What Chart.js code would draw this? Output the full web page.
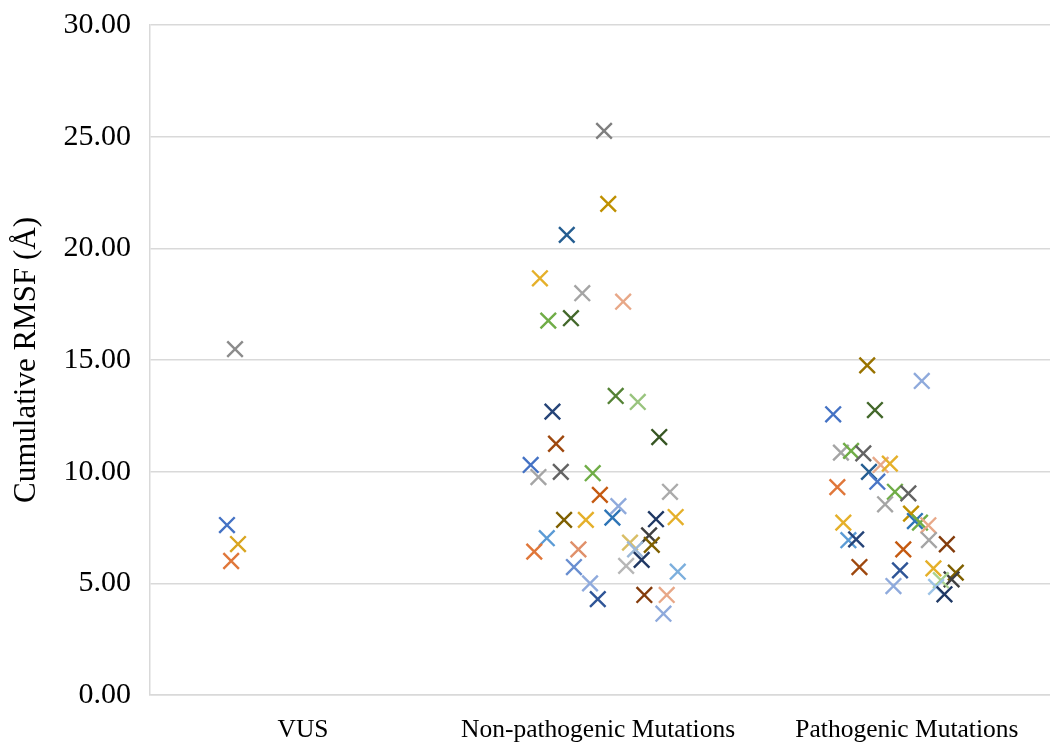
<!DOCTYPE html>
<html>
<head>
<meta charset="utf-8">
<script src="https://cdn.jsdelivr.net/npm/chart.js@4/dist/chart.umd.min.js"></script>
<style>
  html, body { margin: 0; padding: 0; background: #ffffff; }
  #wrap { width: 1050px; height: 746px; }
</style>
</head>
<body>
<div id="wrap"><canvas id="c" width="1050" height="746"></canvas></div>
<script>
// ---- Data ----
const categories = ["VUS", "Non-pathogenic Mutations", "Pathogenic Mutations"];
const categoryTickX = [0.513, 1.502, 2.537];
const yTicks = [0, 5, 10, 15, 20, 25, 30];

const vusX = [0.285, 0.258, 0.295, 0.272];
const vusY = [15.49, 7.61, 6.76, 6.00];

const nonPathX = [1.522, 1.536, 1.397, 1.307, 1.449, 1.586, 1.335, 1.411, 1.561, 1.635,
                  1.349, 1.707, 1.361, 1.276, 1.302, 1.377, 1.484, 1.508, 1.743, 1.570,
                  1.550, 1.388, 1.461, 1.696, 1.762, 1.330, 1.673, 1.682, 1.609, 1.626,
                  1.288, 1.436, 1.648, 1.596, 1.421, 1.769, 1.475, 1.501, 1.657, 1.732,
                  1.721];
const nonPathY = [25.26, 21.99, 20.60, 18.66, 17.99, 17.61, 16.76, 16.87, 13.39, 13.12,
                  12.69, 11.55, 11.25, 10.30, 9.76, 9.99, 9.93, 8.96, 9.10, 8.46,
                  7.94, 7.84, 7.84, 7.87, 7.97, 7.02, 7.15, 6.72, 6.82, 6.52,
                  6.42, 6.52, 6.05, 5.78, 5.73, 5.52, 5.00, 4.29, 4.48, 4.48,
                  3.64];

const pathX = [2.404, 2.587, 2.290, 2.430, 2.316, 2.350, 2.391, 2.449, 2.480, 2.410,
               2.438, 2.304, 2.497, 2.542, 2.464, 2.324, 2.551, 2.564, 2.581, 2.609,
               2.611, 2.341, 2.367, 2.671, 2.525, 2.378, 2.514, 2.626, 2.701, 2.687,
               2.651, 2.635, 2.492, 2.663];
const pathY = [14.76, 14.06, 12.57, 12.76, 10.85, 10.93, 10.82, 10.30, 10.36, 9.99,
               9.55, 9.31, 9.10, 9.03, 8.54, 7.72, 8.12, 7.79, 7.72, 7.60,
               6.94, 6.93, 6.97, 6.75, 6.52, 5.73, 5.58, 5.67, 5.48, 5.18,
               5.14, 4.84, 4.88, 4.51];

// ---- Styles (marker colours) ----
const vusColors = ['#8c8c8c', '#4472C4', '#D9A520', '#E0773A'];
const nonPathColors = ['#7F7F7F', '#BF9000', '#255E91', '#E5B02A', '#A5A5A5', '#E8A888', '#70AD47', '#43682B', '#548235', '#99C47E',
                       '#264478', '#375623', '#9E480E', '#4472C4', '#A5A5A5', '#636363', '#70AD47', '#C55A11', '#ABABAB', '#8FAADC',
                       '#2E75B6', '#7F6000', '#E5B02A', '#1F3864', '#E5B02A', '#5B9BD5', '#404040', '#7F6000', '#D9BE66', '#9DB9D8',
                       '#E0773A', '#E0906A', '#203864', '#B7B7B7', '#698ED0', '#7CAFDD', '#8FAADC', '#2F5597', '#843C0C', '#E8A888',
                       '#8FAADC'];
const pathColors = ['#997300', '#8FAADC', '#4472C4', '#43682B', '#A5A5A5', '#70AD47', '#636363', '#E8A888', '#E5B02A', '#255E91',
                    '#4A76C6', '#E0773A', '#70AD47', '#636363', '#A5A5A5', '#E5B02A', '#BF9000', '#2E75B6', '#70AD47', '#E8A888',
                    '#A5A5A5', '#5B9BD5', '#264478', '#843C0C', '#C55A11', '#9E480E', '#2F5597', '#E5B02A', '#7F6000', '#404040',
                    '#A9D18E', '#9DC3E6', '#8FAADC', '#1F3864'];

const zip = (xs, ys) => xs.map((x, i) => ({ x: x, y: ys[i] }));

const serif = "'Liberation Serif', 'Times New Roman', serif";

function mkSet(label, xs, ys, colors) {
  return {
    label: label,
    data: zip(xs, ys),
    pointStyle: 'crossRot',
    pointRadius: 11,
    pointHoverRadius: 11,
    pointBorderWidth: 2.4,
    pointBorderColor: colors,
    pointBackgroundColor: colors,
    showLine: false
  };
}

new Chart(document.getElementById('c'), {
  type: 'scatter',
  data: {
    datasets: [
      mkSet(categories[0], vusX, vusY, vusColors),
      mkSet(categories[1], nonPathX, nonPathY, nonPathColors),
      mkSet(categories[2], pathX, pathY, pathColors)
    ]
  },
  options: {
    responsive: false,
    animation: false,
    devicePixelRatio: 1,
    events: [],
    layout: { autoPadding: false, padding: { top: 25, right: 0, bottom: 0, left: 0 } },
    plugins: { legend: { display: false }, tooltip: { enabled: false } },
    scales: {
      x: {
        type: 'linear',
        min: 0, max: 3.0168,
        afterBuildTicks: (s) => { s.ticks = categoryTickX.map(v => ({ value: v })); },
        afterFit: (s) => { s.height = 51; s.paddingLeft = 0; s.paddingRight = 0; },
        grid: { display: false, drawTicks: false },
        border: { display: true, color: '#d9d9d9', width: 1.5 },
        ticks: {
          autoSkip: false,
          maxRotation: 0,
          padding: 20,
          color: '#000',
          font: { family: serif, size: 25.5 },
          callback: (v, i) => categories[i]
        }
      },
      y: {
        min: 0, max: 30,
        afterBuildTicks: (s) => { s.ticks = yTicks.map(v => ({ value: v })); },
        afterFit: (s) => { s.width = 150; s.paddingTop = 0; s.paddingBottom = 0; },
        grid: { color: '#d9d9d9', lineWidth: 1.5, drawTicks: false },
        border: { display: true, color: '#d9d9d9', width: 1.5 },
        ticks: {
          padding: 19,
          color: '#000',
          font: { family: serif, size: 30 },
          callback: (v) => Number(v).toFixed(2)
        },
        title: {
          display: true,
          text: 'Cumulative RMSF (Å)',
          color: '#000',
          font: { family: serif, size: 31 },
          padding: { top: 8, bottom: 0 }
        }
      }
    }
  }
});
</script>
</body>
</html>
